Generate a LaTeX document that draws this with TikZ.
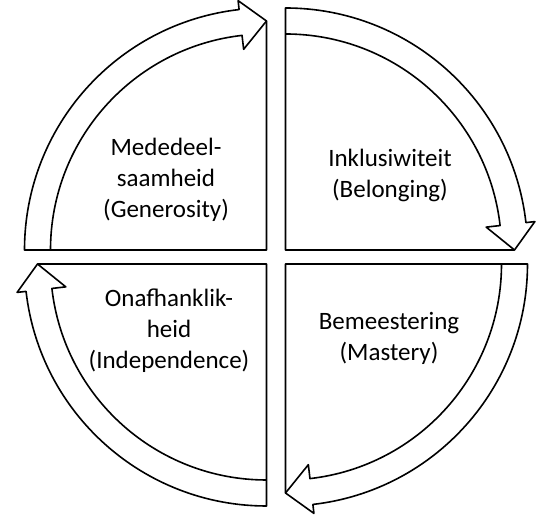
\documentclass[tikz,border=0pt]{standalone}
\usepackage{fontspec}
\setmainfont{Carlito}
\usepackage{tikz}

\begin{document}
\begin{tikzpicture}[x=1pt, y=1pt,
        quadline/.style={draw=black, line width=1.6pt, line join=round},
        quadlabel/.style={align=center, font=\fontsize{25}{31}\selectfont}]
        \useasboundingbox (0, 0) rectangle (539, 524);
        % one quarter with its arrow, turned clockwise for the next ones
        \foreach \turn/\cx/\cy in {0/266.5/274, -90/285.5/274, -180/285.5/260, -270/266.5/260} {
            \begin{scope}[shift={(\cx, \cy)}, rotate=\turn]
                \draw[quadline, fill=white] (0, 0) -- (180:242) arc[start angle=180, end angle=96.5, radius=242]
                    -- (96.5:251) -- (90:229) -- cycle;
                \draw[quadline] (180:216) arc[start angle=180, end angle=96.5, radius=216]
                    -- (96.5:202) -- (90:229);
            \end{scope}
        }
        \node[quadlabel] (generosity) at (166, 344) {Mededeel-\\saamheid\\(Generosity)};
        \node[quadlabel] (belonging) at (390, 349) {Inklusiwiteit\\(Belonging)};
        \node[quadlabel] (mastery) at (389, 186) {Bemeestering\\(Mastery)};
        \node[quadlabel] (independence) at (169, 193) {Onafhanklik-\\heid\\(Independence)};
    \end{tikzpicture}
\end{document}
